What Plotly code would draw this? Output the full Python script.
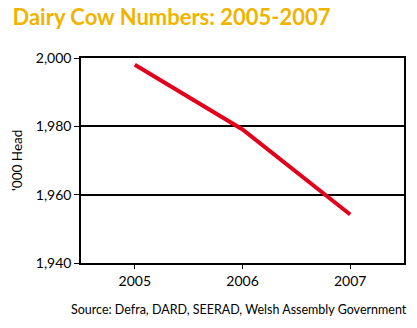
import plotly.graph_objects as go

years = [2005, 2006, 2007]
head_thousands = [1998.0, 1979.1, 1954.2]
y_ticks = [1940, 1960, 1980, 2000]
y_tick_labels = ["1,940", "1,960", "1,980", "2,000"]

fig = go.Figure()
fig.add_trace(go.Scatter(x=years, y=head_thousands, mode="lines",
                         line=dict(color="#E2001A", width=4), showlegend=False))

fig.update_layout(
    width=417, height=328,
    margin=dict(l=81, r=11, t=58, b=65),
    paper_bgcolor="white", plot_bgcolor="white",
    font=dict(family="Lato", color="black", size=14),
    title=dict(text="<b>Dairy Cow Numbers: 2005-2007</b>", x=0.03, xanchor="left",
               y=0.948, yanchor="middle",
               font=dict(family="Lato", size=22, color="#F0B400")),
    xaxis=dict(range=[2004.5, 2007.5], tickvals=years, ticktext=[str(y) for y in years],
               showgrid=False, zeroline=False, showline=True, linecolor="black", linewidth=1.5,
               mirror=True, ticks="outside", ticklen=4, tickcolor="black",
               tickfont=dict(size=14)),
    yaxis=dict(range=[1940, 2000], tickvals=y_ticks, ticktext=y_tick_labels,
               showgrid=True, gridcolor="black", gridwidth=1.5, zeroline=False,
               showline=True, linecolor="black", linewidth=1.5, mirror=True,
               ticks="outside", ticklen=5, tickcolor="black",
               tickfont=dict(size=14)),
    annotations=[
        dict(text="'000 Head", xref="paper", yref="paper", x=-0.2, y=0.5,
             xanchor="center", yanchor="middle", textangle=-90, showarrow=False,
             font=dict(size=13.5, color="black")),
        dict(text="Source: Defra, DARD, SEERAD, Welsh Assembly Government",
             xref="paper", yref="paper", x=1.015, y=-0.228, xanchor="right",
             yanchor="middle", showarrow=False, font=dict(size=12.5, color="black"))],
)

fig.write_html("out.html")
